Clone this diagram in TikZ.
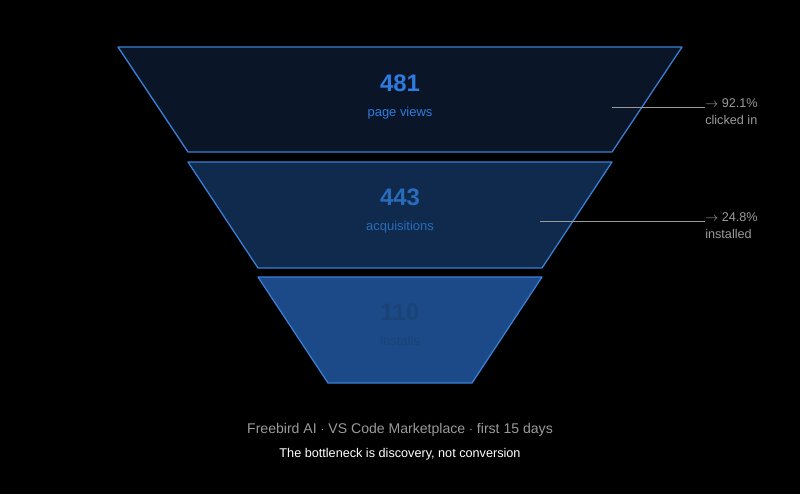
\documentclass[tikz,border=0pt]{standalone}
\usepackage{fontspec}
\setmainfont{Liberation Sans}
\usetikzlibrary{positioning}
\definecolor{bgcol}{HTML}{000000}
\definecolor{edgecol}{HTML}{3A7FD5}
\definecolor{fillA}{HTML}{0A1628}
\definecolor{fillB}{HTML}{0F2A4C}
\definecolor{fillC}{HTML}{1C4A88}
\definecolor{numA}{HTML}{2E7BE0}
\definecolor{numB}{HTML}{2A6CBC}
\definecolor{numC}{HTML}{1A4376}
\definecolor{greycol}{HTML}{9A9A9A}
\tikzstyle{stage}=[draw=edgecol, line width=0.9pt, line join=round]
\tikzstyle{bignum}=[font=\fontsize{17}{17}\selectfont\bfseries, inner sep=0pt]
\tikzstyle{smalllabel}=[font=\fontsize{9.2}{10}\selectfont, inner sep=0pt]
\tikzstyle{rate}=[font=\fontsize{9}{10}\selectfont, text=greycol, inner sep=0pt, anchor=west]
\tikzstyle{leader}=[draw=greycol, line width=0.5pt]

\begin{document}
\begin{tikzpicture}[x=0.025cm, y=-0.025cm]
    \fill[bgcol] (0,0) rectangle (800,494);
    \useasboundingbox (0,0) rectangle (800,494);

    % Funnel stages
    \draw[stage, fill=fillA] (118,47) -- (682,47) -- (612,152) -- (188,152) -- cycle;
    \draw[stage, fill=fillB] (188,162) -- (612,162) -- (542,268) -- (258,268) -- cycle;
    \draw[stage, fill=fillC] (258,277) -- (542,277) -- (472,383) -- (328,383) -- cycle;

    \node[bignum, text=numA] (n1) at (400,83) {481};
    \node[smalllabel, text=numA, below=11pt of n1] (l1) {page views};
    \node[bignum, text=numB] (n2) at (400,197) {443};
    \node[smalllabel, text=numB, below=11pt of n2] (l2) {acquisitions};
    \node[bignum, text=numC] (n3) at (400,312) {110};
    \node[smalllabel, text=numC, below=11pt of n3] (l3) {installs};

    % Conversion rates
    \coordinate (c1) at (612,107);
    \coordinate (c2) at (540,221);
    \node[rate] (r1) at (705,103) {$\rightarrow$ 92.1\%};
    \node[rate, below=5pt of r1.south west, anchor=north west] (t1) {clicked in};
    \node[rate] (r2) at (705,217) {$\rightarrow$ 24.8\%};
    \node[rate, below=5pt of r2.south west, anchor=north west] (t2) {installed};
    \draw[leader] (c1) -- (c1 -| r1.west);
    \draw[leader] (c2) -- (c2 -| r2.west);

    % Footer
    \node[font=\fontsize{10}{12}\selectfont, text=greycol] (f1) at (400,430) {Freebird AI $\cdot$ VS Code Marketplace $\cdot$ first 15 days};
    \node[font=\fontsize{9}{11}\selectfont, text=white] (f2) at (400,454) {The bottleneck is discovery, not conversion};
\end{tikzpicture}
\end{document}
